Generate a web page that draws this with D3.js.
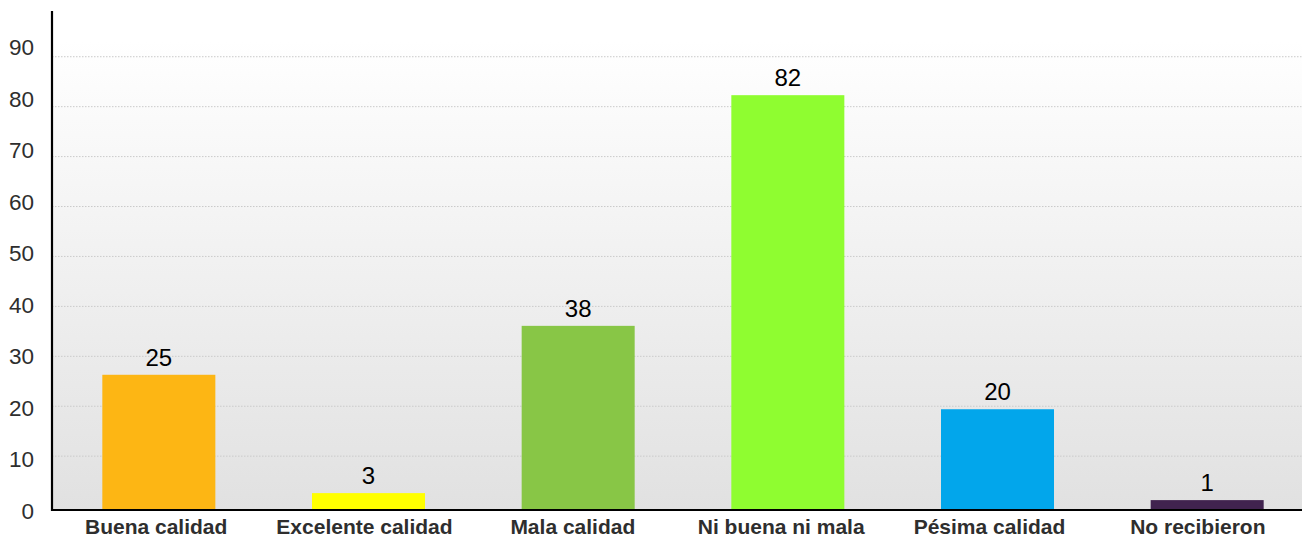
<!DOCTYPE html>
<html>
<head>
<meta charset="utf-8">
<script src="https://cdn.jsdelivr.net/npm/d3@7"></script>
<style>
  body { margin: 0; background: #fff; }
  svg { display: block; font-family: "Liberation Sans", Arial, Helvetica, sans-serif; }
  .gridlines line { stroke: #cacaca; stroke-dasharray: 1.5,1.5; }
  .gridlines path { display: none; }
</style>
</head>
<body>
<script>
// chart data
var categories = ["Buena calidad", "Excelente calidad", "Mala calidad", "Ni buena ni mala", "Pésima calidad", "No recibieron"];
var barValues = [26.2, 2.5, 36, 82.2, 19.3, 1.1];   // bar heights as drawn
var valueLabels = ["25", "3", "38", "82", "20", "1"];   // numbers printed above bars
var barColors = ["#fdb614", "#ffff00", "#88c646", "#8ffd30", "#02a6eb", "#41234f"];
var yTicks = [0, 10, 20, 30, 40, 50, 60, 70, 80, 90];

var width = 1302, height = 537;

var svg = d3.select("body").append("svg")
    .attr("width", width)
    .attr("height", height);

var plotLeft = 52, plotRight = 1302, plotTop = 11, plotBase = 510;

// gridlines / bars scale
var yScale = d3.scaleLinear()
    .domain([0, 100])
    .range([505.6, 6.3]);

// tick label positions sit on a slightly different spacing
var yLabelScale = d3.scaleLinear()
    .domain([0, 90])
    .range([510.6, 47]);

// category labels
var xScale = d3.scaleBand()
    .domain(categories)
    .range([plotLeft, plotRight]);

// bars are spaced a touch wider than the labels
var xBarScale = d3.scaleBand()
    .domain(categories)
    .range([54, 1312])
    .paddingInner(0.461)
    .paddingOuter(0.461 / 2);

// background gradient
var defs = svg.append("defs");
var grad = defs.append("linearGradient")
    .attr("id", "bg")
    .attr("x1", 0).attr("y1", 0)
    .attr("x2", 0).attr("y2", 1);
grad.append("stop").attr("offset", "0").attr("stop-color", "#ffffff");
grad.append("stop").attr("offset", "0.06").attr("stop-color", "#ffffff");
grad.append("stop").attr("offset", "1").attr("stop-color", "#e1e1e1");

svg.append("rect")
    .attr("x", plotLeft)
    .attr("y", plotTop)
    .attr("width", plotRight - plotLeft)
    .attr("height", plotBase - plotTop)
    .attr("fill", "url(#bg)");

// dotted gridlines
var yGridlines = d3.axisLeft(yScale)
    .tickValues(yTicks.slice(1))
    .tickFormat("")
    .tickSize(-(plotRight - plotLeft));

svg.append("g")
    .attr("class", "gridlines")
    .attr("transform", "translate(" + plotLeft + ",0)")
    .call(yGridlines);

// bars
svg.append("g").selectAll("rect")
    .data(categories)
    .enter().append("rect")
    .attr("x", function (d) { return xBarScale(d); })
    .attr("y", function (d, i) { return yScale(barValues[i]); })
    .attr("width", xBarScale.bandwidth())
    .attr("height", function (d, i) { return plotBase - yScale(barValues[i]); })
    .attr("fill", function (d, i) { return barColors[i]; });

// value labels
svg.append("g").selectAll("text")
    .data(categories)
    .enter().append("text")
    .attr("x", function (d) { return xBarScale(d) + xBarScale.bandwidth() / 2; })
    .attr("y", function (d, i) { return yScale(barValues[i]) - 9; })
    .attr("text-anchor", "middle")
    .attr("font-size", 24)
    .attr("fill", "#000")
    .text(function (d, i) { return valueLabels[i]; });

// y tick labels
svg.append("g").selectAll("text")
    .data(yTicks)
    .enter().append("text")
    .attr("x", 34)
    .attr("y", function (d) { return yLabelScale(d); })
    .attr("dy", "0.36em")
    .attr("text-anchor", "end")
    .attr("font-size", 22.5)
    .attr("fill", "#2e2e2e")
    .text(function (d) { return d; });

// category labels
svg.append("g").selectAll("text")
    .data(categories)
    .enter().append("text")
    .attr("x", function (d) { return xScale(d) + xScale.bandwidth() / 2; })
    .attr("y", 534)
    .attr("text-anchor", "middle")
    .attr("font-size", 21)
    .attr("font-weight", "bold")
    .attr("fill", "#2e2e2e")
    .text(function (d) { return d; });

// axis lines
svg.append("line")
    .attr("x1", plotLeft).attr("x2", plotLeft)
    .attr("y1", plotTop).attr("y2", plotBase + 1)
    .attr("stroke", "#000")
    .attr("stroke-width", 2.2);

svg.append("line")
    .attr("x1", plotLeft - 1).attr("x2", plotRight)
    .attr("y1", plotBase).attr("y2", plotBase)
    .attr("stroke", "#000")
    .attr("stroke-width", 2.2);
</script>
</body>
</html>
